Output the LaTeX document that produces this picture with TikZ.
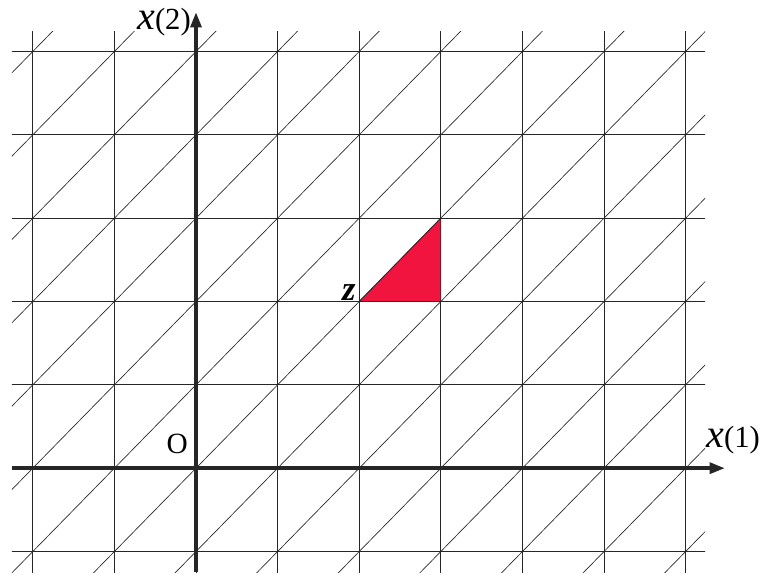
\documentclass[tikz,border=0pt]{standalone}
\usepackage{fontspec}
\setmainfont{Liberation Serif}
\usetikzlibrary{arrows.meta}
\definecolor{ink}{HTML}{262626}
\definecolor{cellred}{HTML}{F0143F}
\newcommand{\axlab}[1]{{\fontsize{30}{30}\selectfont\itshape x}{\fontsize{23}{23}\selectfont(#1)}}
\tikzset{
  gridline/.style={draw=ink, line width=0.6pt},
  diagline/.style={draw=ink, line width=0.5pt},
  axis/.style={draw=ink, line width=2.8pt, -{Triangle[length=11.5pt, width=8pt]}},
  cell/.style={fill=cellred, draw=ink, line width=0.6pt, line join=round},
  lab/.style={inner sep=0pt},
}

\begin{document}
\begin{tikzpicture}[x=61.2pt, y=62.5pt]
    \useasboundingbox (-2.402,-1.2725) rectangle (6.936,5.618);
    % grid and diagonals
    \begin{scope}
      \clip (-2.255,-1.248) rectangle (6.238,5.234);
      \foreach \i in {-2,...,6}
        \draw[gridline] (\i,-1.3) -- (\i,5.3);
      \foreach \j in {-1,...,5}
        \draw[gridline] (-2.3,\j) -- (6.3,\j);
      \foreach \k in {-7,...,7}
        \draw[diagline] (-3,-3+\k) -- (7,7+\k);
    \end{scope}
    % marked cell
    \filldraw[cell] (2,2) -- (3,2) -- (3,3) -- cycle;
    % axes
    \draw[axis] (-2.255,0) -- (6.483,0);
    \draw[axis] (0,-1.248) -- (0,5.474);
    % labels
    \node[lab, anchor=base west] (xone) at (6.25,0.252) {\axlab{1}};
    \node[lab, anchor=base east] (xtwo) at (-0.061,5.258) {\axlab{2}};
    \node[lab, anchor=base east, font=\fontsize{22}{22}\selectfont] (orig) at (-0.098,0.18) {O};
    \node[lab, anchor=base east, font=\fontsize{26}{26}\selectfont\itshape\bfseries] (zlab) at (1.96,2.017) {z};
\end{tikzpicture}
\end{document}
